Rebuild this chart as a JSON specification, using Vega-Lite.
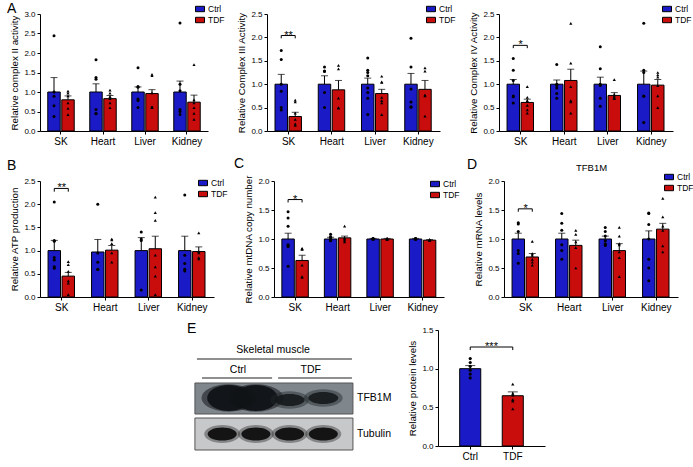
{
"$schema": "https://vega.github.io/schema/vega-lite/v6.json",
"background": "white",
"padding": {"left": 7, "top": 2, "right": 0, "bottom": 0},
"datasets": {
"bII": [{"tissue":"SK","group":"Ctrl","mean":1.0,"top":1.37},{"tissue":"SK","group":"TDF","mean":0.80,"top":0.90},{"tissue":"Heart","group":"Ctrl","mean":1.0,"top":1.21},{"tissue":"Heart","group":"TDF","mean":0.83,"top":0.91},{"tissue":"Liver","group":"Ctrl","mean":1.0,"top":1.13},{"tissue":"Liver","group":"TDF","mean":0.96,"top":1.06},{"tissue":"Kidney","group":"Ctrl","mean":1.0,"top":1.28},{"tissue":"Kidney","group":"TDF","mean":0.74,"top":0.92}],
"pII": [{"tissue":"SK","group":"Ctrl","value":2.44},{"tissue":"SK","group":"Ctrl","value":1.0},{"tissue":"SK","group":"Ctrl","value":0.89},{"tissue":"SK","group":"Ctrl","value":0.65},{"tissue":"SK","group":"Ctrl","value":0.37},
{"tissue":"SK","group":"TDF","value":1.02},{"tissue":"SK","group":"TDF","value":0.97},{"tissue":"SK","group":"TDF","value":0.9},{"tissue":"SK","group":"TDF","value":0.72},{"tissue":"SK","group":"TDF","value":0.58},{"tissue":"SK","group":"TDF","value":0.42},
{"tissue":"Heart","group":"Ctrl","value":1.83},{"tissue":"Heart","group":"Ctrl","value":1.37},{"tissue":"Heart","group":"Ctrl","value":1.33},{"tissue":"Heart","group":"Ctrl","value":0.55},{"tissue":"Heart","group":"Ctrl","value":0.45},{"tissue":"Heart","group":"Ctrl","value":0.44},
{"tissue":"Heart","group":"TDF","value":1.05},{"tissue":"Heart","group":"TDF","value":0.97},{"tissue":"Heart","group":"TDF","value":0.88},{"tissue":"Heart","group":"TDF","value":0.83},{"tissue":"Heart","group":"TDF","value":0.72},{"tissue":"Heart","group":"TDF","value":0.6},
{"tissue":"Liver","group":"Ctrl","value":1.62},{"tissue":"Liver","group":"Ctrl","value":1.14},{"tissue":"Liver","group":"Ctrl","value":1.12},{"tissue":"Liver","group":"Ctrl","value":0.82},{"tissue":"Liver","group":"Ctrl","value":0.78},{"tissue":"Liver","group":"Ctrl","value":0.6},
{"tissue":"Liver","group":"TDF","value":1.45},{"tissue":"Liver","group":"TDF","value":1.42},{"tissue":"Liver","group":"TDF","value":0.98},{"tissue":"Liver","group":"TDF","value":0.62},{"tissue":"Liver","group":"TDF","value":0.61},{"tissue":"Liver","group":"TDF","value":0.6},
{"tissue":"Kidney","group":"Ctrl","value":2.77},{"tissue":"Kidney","group":"Ctrl","value":1.2},{"tissue":"Kidney","group":"Ctrl","value":1.03},{"tissue":"Kidney","group":"Ctrl","value":0.55},{"tissue":"Kidney","group":"Ctrl","value":0.5},{"tissue":"Kidney","group":"Ctrl","value":0.42},
{"tissue":"Kidney","group":"TDF","value":1.7},{"tissue":"Kidney","group":"TDF","value":0.8},{"tissue":"Kidney","group":"TDF","value":0.72},{"tissue":"Kidney","group":"TDF","value":0.6},{"tissue":"Kidney","group":"TDF","value":0.45},{"tissue":"Kidney","group":"TDF","value":0.3}],
"bIII": [{"tissue":"SK","group":"Ctrl","mean":1.0,"top":1.21},{"tissue":"SK","group":"TDF","mean":0.31,"top":0.40},{"tissue":"Heart","group":"Ctrl","mean":1.0,"top":1.18},{"tissue":"Heart","group":"TDF","mean":0.88,"top":1.08},{"tissue":"Liver","group":"Ctrl","mean":1.0,"top":1.13},{"tissue":"Liver","group":"TDF","mean":0.80,"top":0.89},{"tissue":"Kidney","group":"Ctrl","mean":1.0,"top":1.23},{"tissue":"Kidney","group":"TDF","mean":0.89,"top":1.08}],
"pIII": [{"tissue":"SK","group":"Ctrl","value":1.72},{"tissue":"SK","group":"Ctrl","value":1.53},{"tissue":"SK","group":"Ctrl","value":1.0},{"tissue":"SK","group":"Ctrl","value":0.85},{"tissue":"SK","group":"Ctrl","value":0.5},{"tissue":"SK","group":"Ctrl","value":0.45},
{"tissue":"SK","group":"TDF","value":0.66},{"tissue":"SK","group":"TDF","value":0.62},{"tissue":"SK","group":"TDF","value":0.38},{"tissue":"SK","group":"TDF","value":0.25},{"tissue":"SK","group":"TDF","value":0.15},{"tissue":"SK","group":"TDF","value":0.12},
{"tissue":"Heart","group":"Ctrl","value":1.37},{"tissue":"Heart","group":"Ctrl","value":1.28},{"tissue":"Heart","group":"Ctrl","value":1.27},{"tissue":"Heart","group":"Ctrl","value":0.82},{"tissue":"Heart","group":"Ctrl","value":0.5},
{"tissue":"Heart","group":"TDF","value":1.4},{"tissue":"Heart","group":"TDF","value":1.33},{"tissue":"Heart","group":"TDF","value":0.7},{"tissue":"Heart","group":"TDF","value":0.5},{"tissue":"Heart","group":"TDF","value":0.49},
{"tissue":"Liver","group":"Ctrl","value":1.56},{"tissue":"Liver","group":"Ctrl","value":1.3},{"tissue":"Liver","group":"Ctrl","value":1.25},{"tissue":"Liver","group":"Ctrl","value":1.18},{"tissue":"Liver","group":"Ctrl","value":0.92},{"tissue":"Liver","group":"Ctrl","value":0.82},{"tissue":"Liver","group":"Ctrl","value":0.7},{"tissue":"Liver","group":"Ctrl","value":0.35},
{"tissue":"Liver","group":"TDF","value":1.17},{"tissue":"Liver","group":"TDF","value":1.05},{"tissue":"Liver","group":"TDF","value":1.04},{"tissue":"Liver","group":"TDF","value":0.72},{"tissue":"Liver","group":"TDF","value":0.65},{"tissue":"Liver","group":"TDF","value":0.6},{"tissue":"Liver","group":"TDF","value":0.35},
{"tissue":"Kidney","group":"Ctrl","value":1.98},{"tissue":"Kidney","group":"Ctrl","value":1.37},{"tissue":"Kidney","group":"Ctrl","value":0.9},{"tissue":"Kidney","group":"Ctrl","value":0.62},{"tissue":"Kidney","group":"Ctrl","value":0.52},{"tissue":"Kidney","group":"Ctrl","value":0.51},
{"tissue":"Kidney","group":"TDF","value":1.35},{"tissue":"Kidney","group":"TDF","value":1.28},{"tissue":"Kidney","group":"TDF","value":0.77},{"tissue":"Kidney","group":"TDF","value":0.75},{"tissue":"Kidney","group":"TDF","value":0.32}],
"sIII": [{"tissue":"SK","group":"Ctrl","value":1.98,"k":1},{"tissue":"SK","group":"Ctrl","value":2.04,"k":2},{"tissue":"SK","group":"TDF","value":2.04,"k":3},{"tissue":"SK","group":"TDF","value":1.98,"k":4}],
"tIII": [{"tissue":"SK","value":2.04,"label":"**"}],
"bIV": [{"tissue":"SK","group":"Ctrl","mean":1.0,"top":1.10},{"tissue":"SK","group":"TDF","mean":0.61,"top":0.68},{"tissue":"Heart","group":"Ctrl","mean":1.0,"top":1.09},{"tissue":"Heart","group":"TDF","mean":1.08,"top":1.32},{"tissue":"Liver","group":"Ctrl","mean":1.0,"top":1.15},{"tissue":"Liver","group":"TDF","mean":0.76,"top":0.82},{"tissue":"Kidney","group":"Ctrl","mean":1.0,"top":1.28},{"tissue":"Kidney","group":"TDF","mean":0.98,"top":1.10}],
"pIV": [{"tissue":"SK","group":"Ctrl","value":1.55},{"tissue":"SK","group":"Ctrl","value":1.3},{"tissue":"SK","group":"Ctrl","value":1.08},{"tissue":"SK","group":"Ctrl","value":0.75},{"tissue":"SK","group":"Ctrl","value":0.73},{"tissue":"SK","group":"Ctrl","value":0.6},
{"tissue":"SK","group":"TDF","value":0.95},{"tissue":"SK","group":"TDF","value":0.72},{"tissue":"SK","group":"TDF","value":0.65},{"tissue":"SK","group":"TDF","value":0.55},{"tissue":"SK","group":"TDF","value":0.45},{"tissue":"SK","group":"TDF","value":0.38},
{"tissue":"Heart","group":"Ctrl","value":1.42},{"tissue":"Heart","group":"Ctrl","value":1.0},{"tissue":"Heart","group":"Ctrl","value":0.97},{"tissue":"Heart","group":"Ctrl","value":0.92},{"tissue":"Heart","group":"Ctrl","value":0.8},{"tissue":"Heart","group":"Ctrl","value":0.7},
{"tissue":"Heart","group":"TDF","value":2.3},{"tissue":"Heart","group":"TDF","value":1.45},{"tissue":"Heart","group":"TDF","value":0.95},{"tissue":"Heart","group":"TDF","value":0.65},{"tissue":"Heart","group":"TDF","value":0.62},{"tissue":"Heart","group":"TDF","value":0.38},
{"tissue":"Liver","group":"Ctrl","value":1.8},{"tissue":"Liver","group":"Ctrl","value":1.33},{"tissue":"Liver","group":"Ctrl","value":1.0},{"tissue":"Liver","group":"Ctrl","value":0.97},{"tissue":"Liver","group":"Ctrl","value":0.7},{"tissue":"Liver","group":"Ctrl","value":0.53},
{"tissue":"Liver","group":"TDF","value":1.1},{"tissue":"Liver","group":"TDF","value":0.78},{"tissue":"Liver","group":"TDF","value":0.75},{"tissue":"Liver","group":"TDF","value":0.72},{"tissue":"Liver","group":"TDF","value":0.7},{"tissue":"Liver","group":"TDF","value":0.69},
{"tissue":"Kidney","group":"Ctrl","value":2.3},{"tissue":"Kidney","group":"Ctrl","value":1.3},{"tissue":"Kidney","group":"Ctrl","value":1.25},{"tissue":"Kidney","group":"Ctrl","value":0.75},{"tissue":"Kidney","group":"Ctrl","value":0.74},{"tissue":"Kidney","group":"Ctrl","value":0.18},
{"tissue":"Kidney","group":"TDF","value":1.25},{"tissue":"Kidney","group":"TDF","value":1.2},{"tissue":"Kidney","group":"TDF","value":1.15},{"tissue":"Kidney","group":"TDF","value":0.97},{"tissue":"Kidney","group":"TDF","value":0.75},{"tissue":"Kidney","group":"TDF","value":0.5}],
"sIV": [{"tissue":"SK","group":"Ctrl","value":1.77,"k":1},{"tissue":"SK","group":"Ctrl","value":1.83,"k":2},{"tissue":"SK","group":"TDF","value":1.83,"k":3},{"tissue":"SK","group":"TDF","value":1.77,"k":4}],
"tIV": [{"tissue":"SK","value":1.83,"label":"*"}],
"bATP": [{"tissue":"SK","group":"Ctrl","mean":1.0,"top":1.22},{"tissue":"SK","group":"TDF","mean":0.45,"top":0.53},{"tissue":"Heart","group":"Ctrl","mean":0.97,"top":1.24},{"tissue":"Heart","group":"TDF","mean":1.01,"top":1.11},{"tissue":"Liver","group":"Ctrl","mean":1.0,"top":1.28},{"tissue":"Liver","group":"TDF","mean":1.04,"top":1.31},{"tissue":"Kidney","group":"Ctrl","mean":1.0,"top":1.31},{"tissue":"Kidney","group":"TDF","mean":0.98,"top":1.08}],
"pATP": [{"tissue":"SK","group":"Ctrl","value":2.05},{"tissue":"SK","group":"Ctrl","value":1.22},{"tissue":"SK","group":"Ctrl","value":1.2},{"tissue":"SK","group":"Ctrl","value":0.85},{"tissue":"SK","group":"Ctrl","value":0.8},{"tissue":"SK","group":"Ctrl","value":0.65},{"tissue":"SK","group":"Ctrl","value":0.62},
{"tissue":"SK","group":"TDF","value":0.76},{"tissue":"SK","group":"TDF","value":0.7},{"tissue":"SK","group":"TDF","value":0.55},{"tissue":"SK","group":"TDF","value":0.35},{"tissue":"SK","group":"TDF","value":0.3},{"tissue":"SK","group":"TDF","value":0.05},
{"tissue":"Heart","group":"Ctrl","value":2.0},{"tissue":"Heart","group":"Ctrl","value":0.95},{"tissue":"Heart","group":"Ctrl","value":0.75},{"tissue":"Heart","group":"Ctrl","value":0.6},{"tissue":"Heart","group":"Ctrl","value":0.59},
{"tissue":"Heart","group":"TDF","value":1.25},{"tissue":"Heart","group":"TDF","value":1.23},{"tissue":"Heart","group":"TDF","value":1.15},{"tissue":"Heart","group":"TDF","value":0.95},{"tissue":"Heart","group":"TDF","value":0.75},
{"tissue":"Liver","group":"Ctrl","value":1.4},{"tissue":"Liver","group":"Ctrl","value":1.25},{"tissue":"Liver","group":"Ctrl","value":1.22},{"tissue":"Liver","group":"Ctrl","value":0.15},
{"tissue":"Liver","group":"TDF","value":2.15},{"tissue":"Liver","group":"TDF","value":1.82},{"tissue":"Liver","group":"TDF","value":1.65},{"tissue":"Liver","group":"TDF","value":0.9},{"tissue":"Liver","group":"TDF","value":0.65},{"tissue":"Liver","group":"TDF","value":0.45},{"tissue":"Liver","group":"TDF","value":0.05},
{"tissue":"Kidney","group":"Ctrl","value":2.2},{"tissue":"Kidney","group":"Ctrl","value":0.9},{"tissue":"Kidney","group":"Ctrl","value":0.72},{"tissue":"Kidney","group":"Ctrl","value":0.6},{"tissue":"Kidney","group":"Ctrl","value":0.56},
{"tissue":"Kidney","group":"TDF","value":1.38},{"tissue":"Kidney","group":"TDF","value":0.98},{"tissue":"Kidney","group":"TDF","value":0.95},{"tissue":"Kidney","group":"TDF","value":0.85},{"tissue":"Kidney","group":"TDF","value":0.82}],
"sATP": [{"tissue":"SK","group":"Ctrl","value":2.27,"k":1},{"tissue":"SK","group":"Ctrl","value":2.34,"k":2},{"tissue":"SK","group":"TDF","value":2.34,"k":3},{"tissue":"SK","group":"TDF","value":2.27,"k":4}],
"tATP": [{"tissue":"SK","value":2.34,"label":"**"}],
"bDNA": [{"tissue":"SK","group":"Ctrl","mean":1.0,"top":1.10},{"tissue":"SK","group":"TDF","mean":0.63,"top":0.72},{"tissue":"Heart","group":"Ctrl","mean":1.0,"top":1.03},{"tissue":"Heart","group":"TDF","mean":1.02,"top":1.05},{"tissue":"Liver","group":"Ctrl","mean":1.0,"top":1.01},{"tissue":"Liver","group":"TDF","mean":1.0,"top":1.01},{"tissue":"Kidney","group":"Ctrl","mean":1.0,"top":1.01},{"tissue":"Kidney","group":"TDF","mean":0.98,"top":0.99}],
"pDNA": [{"tissue":"SK","group":"Ctrl","value":1.47},{"tissue":"SK","group":"Ctrl","value":1.36},{"tissue":"SK","group":"Ctrl","value":1.22},{"tissue":"SK","group":"Ctrl","value":0.9},{"tissue":"SK","group":"Ctrl","value":0.88},{"tissue":"SK","group":"Ctrl","value":0.87},{"tissue":"SK","group":"Ctrl","value":0.53},
{"tissue":"SK","group":"TDF","value":0.84},{"tissue":"SK","group":"TDF","value":0.83},{"tissue":"SK","group":"TDF","value":0.82},{"tissue":"SK","group":"TDF","value":0.55},{"tissue":"SK","group":"TDF","value":0.35},{"tissue":"SK","group":"TDF","value":0.34},
{"tissue":"Heart","group":"Ctrl","value":1.08},{"tissue":"Heart","group":"Ctrl","value":1.04},{"tissue":"Heart","group":"Ctrl","value":1.03},{"tissue":"Heart","group":"Ctrl","value":1.0},{"tissue":"Heart","group":"Ctrl","value":0.98},{"tissue":"Heart","group":"Ctrl","value":0.97},
{"tissue":"Heart","group":"TDF","value":1.22},{"tissue":"Heart","group":"TDF","value":1.02},{"tissue":"Heart","group":"TDF","value":1.0},{"tissue":"Heart","group":"TDF","value":0.98},{"tissue":"Heart","group":"TDF","value":0.95},
{"tissue":"Liver","group":"Ctrl","value":1.01},{"tissue":"Liver","group":"Ctrl","value":1.0},{"tissue":"Liver","group":"Ctrl","value":0.99},{"tissue":"Liver","group":"Ctrl","value":1.0},{"tissue":"Liver","group":"Ctrl","value":1.01},
{"tissue":"Liver","group":"TDF","value":1.0},{"tissue":"Liver","group":"TDF","value":1.01},{"tissue":"Liver","group":"TDF","value":0.99},{"tissue":"Liver","group":"TDF","value":1.0},{"tissue":"Liver","group":"TDF","value":1.01},
{"tissue":"Kidney","group":"Ctrl","value":1.01},{"tissue":"Kidney","group":"Ctrl","value":1.0},{"tissue":"Kidney","group":"Ctrl","value":1.0},{"tissue":"Kidney","group":"Ctrl","value":0.99},{"tissue":"Kidney","group":"Ctrl","value":1.01},
{"tissue":"Kidney","group":"TDF","value":0.99},{"tissue":"Kidney","group":"TDF","value":0.98},{"tissue":"Kidney","group":"TDF","value":0.97},{"tissue":"Kidney","group":"TDF","value":0.99},{"tissue":"Kidney","group":"TDF","value":0.98}],
"sDNA": [{"tissue":"SK","group":"Ctrl","value":1.63,"k":1},{"tissue":"SK","group":"Ctrl","value":1.68,"k":2},{"tissue":"SK","group":"TDF","value":1.68,"k":3},{"tissue":"SK","group":"TDF","value":1.63,"k":4}],
"tDNA": [{"tissue":"SK","value":1.68,"label":"*"}],
"bRNA": [{"tissue":"SK","group":"Ctrl","mean":1.0,"top":1.10},{"tissue":"SK","group":"TDF","mean":0.69,"top":0.75},{"tissue":"Heart","group":"Ctrl","mean":1.0,"top":1.10},{"tissue":"Heart","group":"TDF","mean":0.89,"top":0.98},{"tissue":"Liver","group":"Ctrl","mean":1.0,"top":1.05},{"tissue":"Liver","group":"TDF","mean":0.80,"top":0.92},{"tissue":"Kidney","group":"Ctrl","mean":1.0,"top":1.14},{"tissue":"Kidney","group":"TDF","mean":1.17,"top":1.27}],
"pRNA": [{"tissue":"SK","group":"Ctrl","value":1.28},{"tissue":"SK","group":"Ctrl","value":1.26},{"tissue":"SK","group":"Ctrl","value":1.13},{"tissue":"SK","group":"Ctrl","value":0.8},{"tissue":"SK","group":"Ctrl","value":0.75},{"tissue":"SK","group":"Ctrl","value":0.58},
{"tissue":"SK","group":"TDF","value":0.96},{"tissue":"SK","group":"TDF","value":0.75},{"tissue":"SK","group":"TDF","value":0.72},{"tissue":"SK","group":"TDF","value":0.65},{"tissue":"SK","group":"TDF","value":0.6},{"tissue":"SK","group":"TDF","value":0.55},
{"tissue":"Heart","group":"Ctrl","value":1.44},{"tissue":"Heart","group":"Ctrl","value":1.27},{"tissue":"Heart","group":"Ctrl","value":1.15},{"tissue":"Heart","group":"Ctrl","value":0.9},{"tissue":"Heart","group":"Ctrl","value":0.8},{"tissue":"Heart","group":"Ctrl","value":0.65},
{"tissue":"Heart","group":"TDF","value":1.15},{"tissue":"Heart","group":"TDF","value":1.08},{"tissue":"Heart","group":"TDF","value":0.95},{"tissue":"Heart","group":"TDF","value":0.85},{"tissue":"Heart","group":"TDF","value":0.5},
{"tissue":"Liver","group":"Ctrl","value":1.2},{"tissue":"Liver","group":"Ctrl","value":1.13},{"tissue":"Liver","group":"Ctrl","value":1.05},{"tissue":"Liver","group":"Ctrl","value":0.97},{"tissue":"Liver","group":"Ctrl","value":0.92},{"tissue":"Liver","group":"Ctrl","value":0.9},{"tissue":"Liver","group":"Ctrl","value":0.89},
{"tissue":"Liver","group":"TDF","value":1.2},{"tissue":"Liver","group":"TDF","value":1.05},{"tissue":"Liver","group":"TDF","value":0.92},{"tissue":"Liver","group":"TDF","value":0.9},{"tissue":"Liver","group":"TDF","value":0.78},{"tissue":"Liver","group":"TDF","value":0.68},{"tissue":"Liver","group":"TDF","value":0.35},
{"tissue":"Kidney","group":"Ctrl","value":1.45},{"tissue":"Kidney","group":"Ctrl","value":1.44},{"tissue":"Kidney","group":"Ctrl","value":1.25},{"tissue":"Kidney","group":"Ctrl","value":1.0},{"tissue":"Kidney","group":"Ctrl","value":0.65},{"tissue":"Kidney","group":"Ctrl","value":0.5},{"tissue":"Kidney","group":"Ctrl","value":0.28},
{"tissue":"Kidney","group":"TDF","value":1.7},{"tissue":"Kidney","group":"TDF","value":1.38},{"tissue":"Kidney","group":"TDF","value":1.22},{"tissue":"Kidney","group":"TDF","value":1.15},{"tissue":"Kidney","group":"TDF","value":0.88},{"tissue":"Kidney","group":"TDF","value":0.78}],
"sRNA": [{"tissue":"SK","group":"Ctrl","value":1.47,"k":1},{"tissue":"SK","group":"Ctrl","value":1.52,"k":2},{"tissue":"SK","group":"TDF","value":1.52,"k":3},{"tissue":"SK","group":"TDF","value":1.47,"k":4}],
"tRNA": [{"tissue":"SK","value":1.52,"label":"*"}],
"bE": [{"group":"Ctrl","mean":1.0,"top":1.04},{"group":"TDF","mean":0.65,"top":0.70}],
"pE": [{"group":"Ctrl","value":1.13},{"group":"Ctrl","value":1.08},{"group":"Ctrl","value":1.03},{"group":"Ctrl","value":0.98},{"group":"Ctrl","value":0.93},{"group":"Ctrl","value":0.88},
{"group":"TDF","value":0.8},{"group":"TDF","value":0.68},{"group":"TDF","value":0.66},{"group":"TDF","value":0.6},{"group":"TDF","value":0.58},{"group":"TDF","value":0.48}],
"sE": [{"group":"Ctrl","value":1.24,"k":1},{"group":"Ctrl","value":1.28,"k":2},{"group":"TDF","value":1.28,"k":3},{"group":"TDF","value":1.24,"k":4}],
"tE": [{"value":1.28,"label":"***"}],
"blotBox": [{"protein":"TFB1M","x1":0.19,"x2":4.88,"y1":53,"y2":84},{"protein":"Tubulin","x1":0.19,"x2":4.88,"y1":88,"y2":120}],
"blotBand": [{"protein":"TFB1M","lane":1.2,"y":68,"intensity":1.0},{"protein":"TFB1M","lane":2.0,"y":68,"intensity":1.0},{"protein":"TFB1M","lane":3,"y":70,"intensity":0.6},{"protein":"TFB1M","lane":4,"y":68,"intensity":0.75},
{"protein":"Tubulin","lane":1,"y":104,"intensity":1.0},{"protein":"Tubulin","lane":2,"y":104,"intensity":1.0},{"protein":"Tubulin","lane":3,"y":104,"intensity":1.0},{"protein":"Tubulin","lane":4,"y":104,"intensity":1.0}],
"blotLine": [{"x1":0.25,"x2":4.85,"y":29},{"x1":0.40,"x2":2.48,"y":48},{"x1":2.66,"x2":4.85,"y":48}],
"blotText": [{"label":"Skeletal muscle","x":2.51,"y":20},{"label":"Ctrl","x":1.47,"y":40},{"label":"TDF","x":3.63,"y":40}],
"blotLabel": [{"label":"TFB1M","x":5.0,"y":68},{"label":"Tubulin","x":5.0,"y":104}]
},
"spacing": 10,
"resolve": {"scale": {"color": "independent", "shape": "independent", "x": "independent", "y": "independent"}, "legend": {"color": "independent"}},
"vconcat": [
{
"hconcat": [
{
"width": 168, "height": 117,
"title": {"text": "A", "dx": -33, "offset": -12},
"layer": [
{"data": {"name": "bII"}, "mark": {"type": "bar", "stroke": "#000", "strokeWidth": 1},
 "encoding": {
  "x": {"field": "tissue", "type": "nominal", "sort": ["SK","Heart","Liver","Kidney"], "title": null, "scale": {"paddingInner": 0.37, "paddingOuter": 0.185}},
  "xOffset": {"field": "group", "type": "nominal", "sort": ["Ctrl","TDF"], "scale": {"paddingInner": 0.11, "paddingOuter": 0}},
  "y": {"field": "mean", "type": "quantitative", "title": "Relative complex II activity", "scale": {"domain": [0, 3], "nice": false}, "axis": {"values": [0,0.5,1,1.5,2,2.5,3]}},
  "color": {"field": "group", "type": "nominal", "scale": {"domain": ["Ctrl","TDF"], "range": ["#1a1ac6","#c90d0d"]}, "legend": {"orient": "none", "legendX": 155, "legendY": -10, "title": null, "symbolType": "M-1,-0.6H1V0.6H-1Z"}}}},
{"data": {"name": "bII"}, "mark": {"type": "rule", "color": "#000", "strokeWidth": 1},
 "encoding": {
  "x": {"field": "tissue", "type": "nominal", "sort": ["SK","Heart","Liver","Kidney"], "title": null},
  "xOffset": {"field": "group", "type": "nominal", "sort": ["Ctrl","TDF"]},
  "y": {"field": "mean", "type": "quantitative", "title": "Relative complex II activity", "axis": {"values": [0,0.5,1,1.5,2,2.5,3]}}, "y2": {"field": "top"}}},
{"data": {"name": "bII"}, "mark": {"type": "tick", "color": "#000", "thickness": 1, "size": 7},
 "encoding": {
  "x": {"field": "tissue", "type": "nominal", "sort": ["SK","Heart","Liver","Kidney"], "title": null},
  "xOffset": {"field": "group", "type": "nominal", "sort": ["Ctrl","TDF"]},
  "y": {"field": "top", "type": "quantitative", "title": "Relative complex II activity", "axis": {"values": [0,0.5,1,1.5,2,2.5,3]}}}},
{"data": {"name": "pII"}, "transform": [{"filter": "datum.group == 'Ctrl'"}], "mark": {"type": "point", "filled": true, "color": "#000", "size": 9, "opacity": 1, "shape": "circle"},
 "encoding": {
  "x": {"field": "tissue", "type": "nominal", "sort": ["SK","Heart","Liver","Kidney"], "title": null},
  "xOffset": {"field": "group", "type": "nominal", "sort": ["Ctrl","TDF"]},
  "y": {"field": "value", "type": "quantitative", "title": "Relative complex II activity", "axis": {"values": [0,0.5,1,1.5,2,2.5,3]}}}},
{"data": {"name": "pII"}, "transform": [{"filter": "datum.group == 'TDF'"}], "mark": {"type": "point", "filled": true, "color": "#000", "size": 10, "opacity": 1, "shape": "triangle-up"},
 "encoding": {
  "x": {"field": "tissue", "type": "nominal", "sort": ["SK","Heart","Liver","Kidney"], "title": null},
  "xOffset": {"field": "group", "type": "nominal", "sort": ["Ctrl","TDF"]},
  "y": {"field": "value", "type": "quantitative", "title": "Relative complex II activity", "axis": {"values": [0,0.5,1,1.5,2,2.5,3]}}}}
]
},
{
"width": 173, "height": 117,
"layer": [
{"data": {"name": "bIII"}, "mark": {"type": "bar", "stroke": "#000", "strokeWidth": 1},
 "encoding": {
  "x": {"field": "tissue", "type": "nominal", "sort": ["SK","Heart","Liver","Kidney"], "title": null, "scale": {"paddingInner": 0.37, "paddingOuter": 0.185}},
  "xOffset": {"field": "group", "type": "nominal", "sort": ["Ctrl","TDF"], "scale": {"paddingInner": 0.11, "paddingOuter": 0}},
  "y": {"field": "mean", "type": "quantitative", "title": "Relative Complex III Activity", "scale": {"domain": [0, 2.5], "nice": false}, "axis": {"values": [0,0.5,1,1.5,2,2.5]}},
  "color": {"field": "group", "type": "nominal", "scale": {"domain": ["Ctrl","TDF"], "range": ["#1a1ac6","#c90d0d"]}, "legend": {"orient": "none", "legendX": 159, "legendY": -10, "title": null, "symbolType": "M-1,-0.6H1V0.6H-1Z"}}}},
{"data": {"name": "bIII"}, "mark": {"type": "rule", "color": "#000", "strokeWidth": 1},
 "encoding": {
  "x": {"field": "tissue", "type": "nominal", "sort": ["SK","Heart","Liver","Kidney"], "title": null},
  "xOffset": {"field": "group", "type": "nominal", "sort": ["Ctrl","TDF"]},
  "y": {"field": "mean", "type": "quantitative", "title": "Relative Complex III Activity", "axis": {"values": [0,0.5,1,1.5,2,2.5]}}, "y2": {"field": "top"}}},
{"data": {"name": "bIII"}, "mark": {"type": "tick", "color": "#000", "thickness": 1, "size": 7},
 "encoding": {
  "x": {"field": "tissue", "type": "nominal", "sort": ["SK","Heart","Liver","Kidney"], "title": null},
  "xOffset": {"field": "group", "type": "nominal", "sort": ["Ctrl","TDF"]},
  "y": {"field": "top", "type": "quantitative", "title": "Relative Complex III Activity", "axis": {"values": [0,0.5,1,1.5,2,2.5]}}}},
{"data": {"name": "pIII"}, "transform": [{"filter": "datum.group == 'Ctrl'"}], "mark": {"type": "point", "filled": true, "color": "#000", "size": 9, "opacity": 1, "shape": "circle"},
 "encoding": {
  "x": {"field": "tissue", "type": "nominal", "sort": ["SK","Heart","Liver","Kidney"], "title": null},
  "xOffset": {"field": "group", "type": "nominal", "sort": ["Ctrl","TDF"]},
  "y": {"field": "value", "type": "quantitative", "title": "Relative Complex III Activity", "axis": {"values": [0,0.5,1,1.5,2,2.5]}}}},
{"data": {"name": "pIII"}, "transform": [{"filter": "datum.group == 'TDF'"}], "mark": {"type": "point", "filled": true, "color": "#000", "size": 10, "opacity": 1, "shape": "triangle-up"},
 "encoding": {
  "x": {"field": "tissue", "type": "nominal", "sort": ["SK","Heart","Liver","Kidney"], "title": null},
  "xOffset": {"field": "group", "type": "nominal", "sort": ["Ctrl","TDF"]},
  "y": {"field": "value", "type": "quantitative", "title": "Relative Complex III Activity", "axis": {"values": [0,0.5,1,1.5,2,2.5]}}}},
{"data": {"name": "sIII"}, "mark": {"type": "line", "color": "#000", "strokeWidth": 1},
 "encoding": {
  "x": {"field": "tissue", "type": "nominal", "sort": ["SK","Heart","Liver","Kidney"], "title": null},
  "xOffset": {"field": "group", "type": "nominal", "sort": ["Ctrl","TDF"]},
  "y": {"field": "value", "type": "quantitative", "title": "Relative Complex III Activity", "axis": {"values": [0,0.5,1,1.5,2,2.5]}},
  "order": {"field": "k"}}},
{"data": {"name": "tIII"}, "mark": {"type": "text", "fontSize": 11, "dy": 3, "baseline": "alphabetic", "color": "#000"},
 "encoding": {
  "x": {"field": "tissue", "type": "nominal", "sort": ["SK","Heart","Liver","Kidney"], "title": null},
  "y": {"field": "value", "type": "quantitative", "title": "Relative Complex III Activity", "axis": {"values": [0,0.5,1,1.5,2,2.5]}},
  "text": {"field": "label"}}}
]
},
{
"width": 174, "height": 117,
"layer": [
{"data": {"name": "bIV"}, "mark": {"type": "bar", "stroke": "#000", "strokeWidth": 1},
 "encoding": {
  "x": {"field": "tissue", "type": "nominal", "sort": ["SK","Heart","Liver","Kidney"], "title": null, "scale": {"paddingInner": 0.37, "paddingOuter": 0.185}},
  "xOffset": {"field": "group", "type": "nominal", "sort": ["Ctrl","TDF"], "scale": {"paddingInner": 0.11, "paddingOuter": 0}},
  "y": {"field": "mean", "type": "quantitative", "title": "Relative Complex IV Activity", "scale": {"domain": [0, 2.5], "nice": false}, "axis": {"values": [0,0.5,1,1.5,2,2.5]}},
  "color": {"field": "group", "type": "nominal", "scale": {"domain": ["Ctrl","TDF"], "range": ["#1a1ac6","#c90d0d"]}, "legend": {"orient": "none", "legendX": 163, "legendY": -10, "title": null, "symbolType": "M-1,-0.6H1V0.6H-1Z"}}}},
{"data": {"name": "bIV"}, "mark": {"type": "rule", "color": "#000", "strokeWidth": 1},
 "encoding": {
  "x": {"field": "tissue", "type": "nominal", "sort": ["SK","Heart","Liver","Kidney"], "title": null},
  "xOffset": {"field": "group", "type": "nominal", "sort": ["Ctrl","TDF"]},
  "y": {"field": "mean", "type": "quantitative", "title": "Relative Complex IV Activity", "axis": {"values": [0,0.5,1,1.5,2,2.5]}}, "y2": {"field": "top"}}},
{"data": {"name": "bIV"}, "mark": {"type": "tick", "color": "#000", "thickness": 1, "size": 7},
 "encoding": {
  "x": {"field": "tissue", "type": "nominal", "sort": ["SK","Heart","Liver","Kidney"], "title": null},
  "xOffset": {"field": "group", "type": "nominal", "sort": ["Ctrl","TDF"]},
  "y": {"field": "top", "type": "quantitative", "title": "Relative Complex IV Activity", "axis": {"values": [0,0.5,1,1.5,2,2.5]}}}},
{"data": {"name": "pIV"}, "transform": [{"filter": "datum.group == 'Ctrl'"}], "mark": {"type": "point", "filled": true, "color": "#000", "size": 9, "opacity": 1, "shape": "circle"},
 "encoding": {
  "x": {"field": "tissue", "type": "nominal", "sort": ["SK","Heart","Liver","Kidney"], "title": null},
  "xOffset": {"field": "group", "type": "nominal", "sort": ["Ctrl","TDF"]},
  "y": {"field": "value", "type": "quantitative", "title": "Relative Complex IV Activity", "axis": {"values": [0,0.5,1,1.5,2,2.5]}}}},
{"data": {"name": "pIV"}, "transform": [{"filter": "datum.group == 'TDF'"}], "mark": {"type": "point", "filled": true, "color": "#000", "size": 10, "opacity": 1, "shape": "triangle-up"},
 "encoding": {
  "x": {"field": "tissue", "type": "nominal", "sort": ["SK","Heart","Liver","Kidney"], "title": null},
  "xOffset": {"field": "group", "type": "nominal", "sort": ["Ctrl","TDF"]},
  "y": {"field": "value", "type": "quantitative", "title": "Relative Complex IV Activity", "axis": {"values": [0,0.5,1,1.5,2,2.5]}}}},
{"data": {"name": "sIV"}, "mark": {"type": "line", "color": "#000", "strokeWidth": 1},
 "encoding": {
  "x": {"field": "tissue", "type": "nominal", "sort": ["SK","Heart","Liver","Kidney"], "title": null},
  "xOffset": {"field": "group", "type": "nominal", "sort": ["Ctrl","TDF"]},
  "y": {"field": "value", "type": "quantitative", "title": "Relative Complex IV Activity", "axis": {"values": [0,0.5,1,1.5,2,2.5]}},
  "order": {"field": "k"}}},
{"data": {"name": "tIV"}, "mark": {"type": "text", "fontSize": 11, "dy": 3, "baseline": "alphabetic", "color": "#000"},
 "encoding": {
  "x": {"field": "tissue", "type": "nominal", "sort": ["SK","Heart","Liver","Kidney"], "title": null},
  "y": {"field": "value", "type": "quantitative", "title": "Relative Complex IV Activity", "axis": {"values": [0,0.5,1,1.5,2,2.5]}},
  "text": {"field": "label"}}}
]
}
],
"spacing": 59, "bounds": "flush",
"resolve": {"scale": {"color": "independent"}, "legend": {"color": "independent"}}
},
{
"hconcat": [
{
"width": 174, "height": 116,
"title": {"text": "B", "dx": -33, "offset": 4},
"layer": [
{"data": {"name": "bATP"}, "mark": {"type": "bar", "stroke": "#000", "strokeWidth": 1},
 "encoding": {
  "x": {"field": "tissue", "type": "nominal", "sort": ["SK","Heart","Liver","Kidney"], "title": null, "scale": {"paddingInner": 0.37, "paddingOuter": 0.185}},
  "xOffset": {"field": "group", "type": "nominal", "sort": ["Ctrl","TDF"], "scale": {"paddingInner": 0.11, "paddingOuter": 0}},
  "y": {"field": "mean", "type": "quantitative", "title": "Relative ATP production", "scale": {"domain": [0, 2.5], "nice": false}, "axis": {"values": [0,0.5,1,1.5,2,2.5]}},
  "color": {"field": "group", "type": "nominal", "scale": {"domain": ["Ctrl","TDF"], "range": ["#1a1ac6","#c90d0d"]}, "legend": {"orient": "none", "legendX": 158, "legendY": -3, "title": null, "symbolType": "M-1,-0.6H1V0.6H-1Z"}}}},
{"data": {"name": "bATP"}, "mark": {"type": "rule", "color": "#000", "strokeWidth": 1},
 "encoding": {
  "x": {"field": "tissue", "type": "nominal", "sort": ["SK","Heart","Liver","Kidney"], "title": null},
  "xOffset": {"field": "group", "type": "nominal", "sort": ["Ctrl","TDF"]},
  "y": {"field": "mean", "type": "quantitative", "title": "Relative ATP production", "axis": {"values": [0,0.5,1,1.5,2,2.5]}}, "y2": {"field": "top"}}},
{"data": {"name": "bATP"}, "mark": {"type": "tick", "color": "#000", "thickness": 1, "size": 7},
 "encoding": {
  "x": {"field": "tissue", "type": "nominal", "sort": ["SK","Heart","Liver","Kidney"], "title": null},
  "xOffset": {"field": "group", "type": "nominal", "sort": ["Ctrl","TDF"]},
  "y": {"field": "top", "type": "quantitative", "title": "Relative ATP production", "axis": {"values": [0,0.5,1,1.5,2,2.5]}}}},
{"data": {"name": "pATP"}, "transform": [{"filter": "datum.group == 'Ctrl'"}], "mark": {"type": "point", "filled": true, "color": "#000", "size": 9, "opacity": 1, "shape": "circle"},
 "encoding": {
  "x": {"field": "tissue", "type": "nominal", "sort": ["SK","Heart","Liver","Kidney"], "title": null},
  "xOffset": {"field": "group", "type": "nominal", "sort": ["Ctrl","TDF"]},
  "y": {"field": "value", "type": "quantitative", "title": "Relative ATP production", "axis": {"values": [0,0.5,1,1.5,2,2.5]}}}},
{"data": {"name": "pATP"}, "transform": [{"filter": "datum.group == 'TDF'"}], "mark": {"type": "point", "filled": true, "color": "#000", "size": 10, "opacity": 1, "shape": "triangle-up"},
 "encoding": {
  "x": {"field": "tissue", "type": "nominal", "sort": ["SK","Heart","Liver","Kidney"], "title": null},
  "xOffset": {"field": "group", "type": "nominal", "sort": ["Ctrl","TDF"]},
  "y": {"field": "value", "type": "quantitative", "title": "Relative ATP production", "axis": {"values": [0,0.5,1,1.5,2,2.5]}}}},
{"data": {"name": "sATP"}, "mark": {"type": "line", "color": "#000", "strokeWidth": 1},
 "encoding": {
  "x": {"field": "tissue", "type": "nominal", "sort": ["SK","Heart","Liver","Kidney"], "title": null},
  "xOffset": {"field": "group", "type": "nominal", "sort": ["Ctrl","TDF"]},
  "y": {"field": "value", "type": "quantitative", "title": "Relative ATP production", "axis": {"values": [0,0.5,1,1.5,2,2.5]}},
  "order": {"field": "k"}}},
{"data": {"name": "tATP"}, "mark": {"type": "text", "fontSize": 11, "dy": 3, "baseline": "alphabetic", "color": "#000"},
 "encoding": {
  "x": {"field": "tissue", "type": "nominal", "sort": ["SK","Heart","Liver","Kidney"], "title": null},
  "y": {"field": "value", "type": "quantitative", "title": "Relative ATP production", "axis": {"values": [0,0.5,1,1.5,2,2.5]}},
  "text": {"field": "label"}}}
]
},
{
"width": 170, "height": 116,
"title": {"text": "C", "dx": -40, "offset": 4},
"layer": [
{"data": {"name": "bDNA"}, "mark": {"type": "bar", "stroke": "#000", "strokeWidth": 1},
 "encoding": {
  "x": {"field": "tissue", "type": "nominal", "sort": ["SK","Heart","Liver","Kidney"], "title": null, "scale": {"paddingInner": 0.37, "paddingOuter": 0.185}},
  "xOffset": {"field": "group", "type": "nominal", "sort": ["Ctrl","TDF"], "scale": {"paddingInner": 0.11, "paddingOuter": 0}},
  "y": {"field": "mean", "type": "quantitative", "title": "Relative mtDNA copy number", "scale": {"domain": [0, 2], "nice": false}, "axis": {"values": [0,0.5,1,1.5,2]}},
  "color": {"field": "group", "type": "nominal", "scale": {"domain": ["Ctrl","TDF"], "range": ["#1a1ac6","#c90d0d"]}, "legend": {"orient": "none", "legendX": 156, "legendY": -2, "title": null, "symbolType": "M-1,-0.6H1V0.6H-1Z"}}}},
{"data": {"name": "bDNA"}, "mark": {"type": "rule", "color": "#000", "strokeWidth": 1},
 "encoding": {
  "x": {"field": "tissue", "type": "nominal", "sort": ["SK","Heart","Liver","Kidney"], "title": null},
  "xOffset": {"field": "group", "type": "nominal", "sort": ["Ctrl","TDF"]},
  "y": {"field": "mean", "type": "quantitative", "title": "Relative mtDNA copy number", "axis": {"values": [0,0.5,1,1.5,2]}}, "y2": {"field": "top"}}},
{"data": {"name": "bDNA"}, "mark": {"type": "tick", "color": "#000", "thickness": 1, "size": 7},
 "encoding": {
  "x": {"field": "tissue", "type": "nominal", "sort": ["SK","Heart","Liver","Kidney"], "title": null},
  "xOffset": {"field": "group", "type": "nominal", "sort": ["Ctrl","TDF"]},
  "y": {"field": "top", "type": "quantitative", "title": "Relative mtDNA copy number", "axis": {"values": [0,0.5,1,1.5,2]}}}},
{"data": {"name": "pDNA"}, "transform": [{"filter": "datum.group == 'Ctrl'"}], "mark": {"type": "point", "filled": true, "color": "#000", "size": 9, "opacity": 1, "shape": "circle"},
 "encoding": {
  "x": {"field": "tissue", "type": "nominal", "sort": ["SK","Heart","Liver","Kidney"], "title": null},
  "xOffset": {"field": "group", "type": "nominal", "sort": ["Ctrl","TDF"]},
  "y": {"field": "value", "type": "quantitative", "title": "Relative mtDNA copy number", "axis": {"values": [0,0.5,1,1.5,2]}}}},
{"data": {"name": "pDNA"}, "transform": [{"filter": "datum.group == 'TDF'"}], "mark": {"type": "point", "filled": true, "color": "#000", "size": 10, "opacity": 1, "shape": "triangle-up"},
 "encoding": {
  "x": {"field": "tissue", "type": "nominal", "sort": ["SK","Heart","Liver","Kidney"], "title": null},
  "xOffset": {"field": "group", "type": "nominal", "sort": ["Ctrl","TDF"]},
  "y": {"field": "value", "type": "quantitative", "title": "Relative mtDNA copy number", "axis": {"values": [0,0.5,1,1.5,2]}}}},
{"data": {"name": "sDNA"}, "mark": {"type": "line", "color": "#000", "strokeWidth": 1},
 "encoding": {
  "x": {"field": "tissue", "type": "nominal", "sort": ["SK","Heart","Liver","Kidney"], "title": null},
  "xOffset": {"field": "group", "type": "nominal", "sort": ["Ctrl","TDF"]},
  "y": {"field": "value", "type": "quantitative", "title": "Relative mtDNA copy number", "axis": {"values": [0,0.5,1,1.5,2]}},
  "order": {"field": "k"}}},
{"data": {"name": "tDNA"}, "mark": {"type": "text", "fontSize": 11, "dy": 3, "baseline": "alphabetic", "color": "#000"},
 "encoding": {
  "x": {"field": "tissue", "type": "nominal", "sort": ["SK","Heart","Liver","Kidney"], "title": null},
  "y": {"field": "value", "type": "quantitative", "title": "Relative mtDNA copy number", "axis": {"values": [0,0.5,1,1.5,2]}},
  "text": {"field": "label"}}}
]
},
{
"width": 174, "height": 116,
"title": {"text": "D", "dx": -37, "offset": -10},
"resolve": {"axis": {"x": "independent"}},
"layer": [
{"data": {"name": "bRNA"}, "mark": {"type": "bar", "stroke": "#000", "strokeWidth": 1},
 "encoding": {
  "x": {"field": "tissue", "type": "nominal", "sort": ["SK","Heart","Liver","Kidney"], "title": null, "scale": {"paddingInner": 0.37, "paddingOuter": 0.185}},
  "xOffset": {"field": "group", "type": "nominal", "sort": ["Ctrl","TDF"], "scale": {"paddingInner": 0.11, "paddingOuter": 0}},
  "y": {"field": "mean", "type": "quantitative", "title": "Relative mRNA levels", "scale": {"domain": [0, 2], "nice": false}, "axis": {"values": [0,0.5,1,1.5,2]}},
  "color": {"field": "group", "type": "nominal", "scale": {"domain": ["Ctrl","TDF"], "range": ["#1a1ac6","#c90d0d"]}, "legend": {"orient": "none", "legendX": 160, "legendY": -9, "title": null, "symbolType": "M-1,-0.6H1V0.6H-1Z"}}}},
{"data": {"name": "bRNA"}, "mark": {"type": "rule", "color": "#000", "strokeWidth": 1},
 "encoding": {
  "x": {"field": "tissue", "type": "nominal", "sort": ["SK","Heart","Liver","Kidney"], "title": "TFB1M", "axis": {"orient": "top", "labels": false, "ticks": false, "domain": false, "titleFontSize": 9.5, "titlePadding": 9}},
  "xOffset": {"field": "group", "type": "nominal", "sort": ["Ctrl","TDF"]},
  "y": {"field": "mean", "type": "quantitative", "title": "Relative mRNA levels", "axis": {"values": [0,0.5,1,1.5,2]}}, "y2": {"field": "top"}}},
{"data": {"name": "bRNA"}, "mark": {"type": "tick", "color": "#000", "thickness": 1, "size": 7},
 "encoding": {
  "x": {"field": "tissue", "type": "nominal", "sort": ["SK","Heart","Liver","Kidney"], "axis": null},
  "xOffset": {"field": "group", "type": "nominal", "sort": ["Ctrl","TDF"]},
  "y": {"field": "top", "type": "quantitative", "title": "Relative mRNA levels", "axis": {"values": [0,0.5,1,1.5,2]}}}},
{"data": {"name": "pRNA"}, "transform": [{"filter": "datum.group == 'Ctrl'"}], "mark": {"type": "point", "filled": true, "color": "#000", "size": 9, "opacity": 1, "shape": "circle"},
 "encoding": {
  "x": {"field": "tissue", "type": "nominal", "sort": ["SK","Heart","Liver","Kidney"], "axis": null},
  "xOffset": {"field": "group", "type": "nominal", "sort": ["Ctrl","TDF"]},
  "y": {"field": "value", "type": "quantitative", "title": "Relative mRNA levels", "axis": {"values": [0,0.5,1,1.5,2]}}}},
{"data": {"name": "pRNA"}, "transform": [{"filter": "datum.group == 'TDF'"}], "mark": {"type": "point", "filled": true, "color": "#000", "size": 10, "opacity": 1, "shape": "triangle-up"},
 "encoding": {
  "x": {"field": "tissue", "type": "nominal", "sort": ["SK","Heart","Liver","Kidney"], "axis": null},
  "xOffset": {"field": "group", "type": "nominal", "sort": ["Ctrl","TDF"]},
  "y": {"field": "value", "type": "quantitative", "title": "Relative mRNA levels", "axis": {"values": [0,0.5,1,1.5,2]}}}},
{"data": {"name": "sRNA"}, "mark": {"type": "line", "color": "#000", "strokeWidth": 1},
 "encoding": {
  "x": {"field": "tissue", "type": "nominal", "sort": ["SK","Heart","Liver","Kidney"], "axis": null},
  "xOffset": {"field": "group", "type": "nominal", "sort": ["Ctrl","TDF"]},
  "y": {"field": "value", "type": "quantitative", "title": "Relative mRNA levels", "axis": {"values": [0,0.5,1,1.5,2]}},
  "order": {"field": "k"}}},
{"data": {"name": "tRNA"}, "mark": {"type": "text", "fontSize": 11, "dy": 3, "baseline": "alphabetic", "color": "#000"},
 "encoding": {
  "x": {"field": "tissue", "type": "nominal", "sort": ["SK","Heart","Liver","Kidney"], "axis": null},
  "y": {"field": "value", "type": "quantitative", "title": "Relative mRNA levels", "axis": {"values": [0,0.5,1,1.5,2]}},
  "text": {"field": "label"}}}
]
}
],
"spacing": 60, "bounds": "flush",
"resolve": {"scale": {"color": "independent"}, "legend": {"color": "independent"}}
},
{
"hconcat": [
{
"width": 358, "height": 124,
"title": {"text": "E", "dx": 147, "offset": -6},
"layer": [
{"data": {"name": "blotBox"}, "mark": {"type": "rect", "stroke": "#555", "strokeWidth": 1},
 "encoding": {
  "x": {"field": "x1", "type": "quantitative", "scale": {"domain": [-4.407, 6.217], "nice": false, "zero": false}, "axis": null},
  "x2": {"field": "x2"},
  "y": {"field": "y1", "type": "quantitative", "scale": {"domain": [0, 124], "nice": false, "reverse": true}, "axis": null},
  "y2": {"field": "y2"},
  "color": {"field": "protein", "type": "nominal", "scale": {"domain": ["TFB1M","Tubulin"], "range": ["#7f868c","#c7c8ca"]}, "legend": null}}},
{"data": {"name": "blotBand"}, "transform": [{"filter": "datum.protein == 'TFB1M' && datum.intensity > 0.9"}],
 "mark": {"type": "point", "filled": true, "color": "#1c2024", "opacity": 0.6, "size": 3000, "shape": "M-1,0A1,0.5,0,1,0,1,0A1,0.5,0,1,0,-1,0Z"},
 "encoding": {"x": {"field": "lane", "type": "quantitative", "axis": null}, "y": {"field": "y", "type": "quantitative", "axis": null}}},
{"data": {"name": "blotBand"}, "transform": [{"filter": "datum.protein == 'TFB1M' && datum.intensity > 0.9"}],
 "mark": {"type": "point", "filled": true, "color": "#101316", "opacity": 0.95, "size": 1900, "shape": "M-1,0A1,0.6,0,1,0,1,0A1,0.6,0,1,0,-1,0Z"},
 "encoding": {"x": {"field": "lane", "type": "quantitative", "axis": null}, "y": {"field": "y", "type": "quantitative", "axis": null}}},
{"data": {"name": "blotBand"}, "transform": [{"filter": "datum.protein == 'TFB1M' && datum.intensity <= 0.9"}],
 "mark": {"type": "point", "filled": true, "color": "#22272b", "opacity": 0.45, "size": 1500, "shape": "M-1,0A1,0.45,0,1,0,1,0A1,0.45,0,1,0,-1,0Z"},
 "encoding": {"x": {"field": "lane", "type": "quantitative", "axis": null}, "y": {"field": "y", "type": "quantitative", "axis": null}}},
{"data": {"name": "blotBand"}, "transform": [{"filter": "datum.protein == 'TFB1M' && datum.intensity <= 0.9"}],
 "mark": {"type": "point", "filled": true, "color": "#15181b", "opacity": 0.9, "size": 900, "shape": "M-1,0A1,0.4,0,1,0,1,0A1,0.4,0,1,0,-1,0Z"},
 "encoding": {"x": {"field": "lane", "type": "quantitative", "axis": null}, "y": {"field": "y", "type": "quantitative", "axis": null}}},
{"data": {"name": "blotBand"}, "transform": [{"filter": "datum.protein == 'Tubulin'"}],
 "mark": {"type": "point", "filled": true, "color": "#333", "opacity": 0.45, "size": 1300, "shape": "M-1,0A1,0.5,0,1,0,1,0A1,0.5,0,1,0,-1,0Z"},
 "encoding": {"x": {"field": "lane", "type": "quantitative", "axis": null}, "y": {"field": "y", "type": "quantitative", "axis": null}}},
{"data": {"name": "blotBand"}, "transform": [{"filter": "datum.protein == 'Tubulin'"}],
 "mark": {"type": "point", "filled": true, "color": "#0e0e0e", "opacity": 0.95, "size": 850, "shape": "M-1,0A1,0.45,0,1,0,1,0A1,0.45,0,1,0,-1,0Z"},
 "encoding": {"x": {"field": "lane", "type": "quantitative", "axis": null}, "y": {"field": "y", "type": "quantitative", "axis": null}}},
{"data": {"name": "blotLine"}, "mark": {"type": "rule", "color": "#6a6a6a", "strokeWidth": 1.5},
 "encoding": {"x": {"field": "x1", "type": "quantitative", "axis": null}, "x2": {"field": "x2"}, "y": {"field": "y", "type": "quantitative", "axis": null}}},
{"data": {"name": "blotText"}, "mark": {"type": "text", "fontSize": 10.5, "align": "center", "baseline": "middle", "color": "#000"},
 "encoding": {"x": {"field": "x", "type": "quantitative", "axis": null}, "y": {"field": "y", "type": "quantitative", "axis": null}, "text": {"field": "label"}}},
{"data": {"name": "blotLabel"}, "mark": {"type": "text", "fontSize": 10.5, "align": "left", "baseline": "middle", "color": "#000"},
 "encoding": {"x": {"field": "x", "type": "quantitative", "axis": null}, "y": {"field": "y", "type": "quantitative", "axis": null}, "text": {"field": "label"}}}
]
},
{
"width": 107, "height": 116,
"layer": [
{"data": {"name": "bE"}, "mark": {"type": "bar", "stroke": "#000", "strokeWidth": 1},
 "encoding": {
  "x": {"field": "group", "type": "nominal", "sort": ["Ctrl","TDF"], "title": null, "scale": {"paddingInner": 0.505, "paddingOuter": 0.51}},
  "y": {"field": "mean", "type": "quantitative", "title": "Relative protein levels", "scale": {"domain": [0, 1.5], "nice": false}, "axis": {"values": [0,0.5,1,1.5]}},
  "color": {"field": "group", "type": "nominal", "scale": {"domain": ["Ctrl","TDF"], "range": ["#1a1ac6","#c90d0d"]}, "legend": null}}},
{"data": {"name": "bE"}, "mark": {"type": "rule", "color": "#000", "strokeWidth": 1},
 "encoding": {
  "x": {"field": "group", "type": "nominal", "sort": ["Ctrl","TDF"], "title": null},
  "y": {"field": "mean", "type": "quantitative", "title": "Relative protein levels", "axis": {"values": [0,0.5,1,1.5]}}, "y2": {"field": "top"}}},
{"data": {"name": "bE"}, "mark": {"type": "tick", "color": "#000", "thickness": 1, "size": 10},
 "encoding": {
  "x": {"field": "group", "type": "nominal", "sort": ["Ctrl","TDF"], "title": null},
  "y": {"field": "top", "type": "quantitative", "title": "Relative protein levels", "axis": {"values": [0,0.5,1,1.5]}}}},
{"data": {"name": "pE"}, "transform": [{"filter": "datum.group == 'Ctrl'"}], "mark": {"type": "point", "filled": true, "color": "#000", "size": 10, "opacity": 1, "shape": "circle"},
 "encoding": {
  "x": {"field": "group", "type": "nominal", "sort": ["Ctrl","TDF"], "title": null},
  "y": {"field": "value", "type": "quantitative", "title": "Relative protein levels", "axis": {"values": [0,0.5,1,1.5]}}}},
{"data": {"name": "pE"}, "transform": [{"filter": "datum.group == 'TDF'"}], "mark": {"type": "point", "filled": true, "color": "#000", "size": 11, "opacity": 1, "shape": "triangle-up"},
 "encoding": {
  "x": {"field": "group", "type": "nominal", "sort": ["Ctrl","TDF"], "title": null},
  "y": {"field": "value", "type": "quantitative", "title": "Relative protein levels", "axis": {"values": [0,0.5,1,1.5]}}}},
{"data": {"name": "sE"}, "mark": {"type": "line", "color": "#000", "strokeWidth": 1},
 "encoding": {
  "x": {"field": "group", "type": "nominal", "sort": ["Ctrl","TDF"], "title": null},
  "y": {"field": "value", "type": "quantitative", "title": "Relative protein levels", "axis": {"values": [0,0.5,1,1.5]}},
  "order": {"field": "k"}}},
{"data": {"name": "tE"}, "mark": {"type": "text", "fontSize": 11, "dy": 3, "baseline": "alphabetic", "color": "#000"},
 "encoding": {
  "y": {"field": "value", "type": "quantitative", "title": "Relative protein levels", "axis": {"values": [0,0.5,1,1.5]}},
  "text": {"field": "label"}}}
]
}
],
"spacing": 40, "bounds": "flush",
"resolve": {"scale": {"color": "independent"}, "legend": {"color": "independent"}}
}
],
"config": {
 "font": "Liberation Sans",
 "view": {"stroke": null},
 "axis": {"grid": false, "domainColor": "#000", "domainWidth": 1, "tickColor": "#000", "tickSize": 3, "tickWidth": 1, "labelColor": "#000", "titleColor": "#000", "labelFont": "Liberation Sans", "titleFont": "Liberation Sans", "titleFontWeight": "normal", "labelPadding": 2},
 "axisX": {"labelAngle": 0, "labelFontSize": 10},
 "axisY": {"labelFontSize": 8, "titleFontSize": 9.75, "titlePadding": 4, "format": ".1f", "labelOverlap": false},
 "legend": {"labelFontSize": 8.5, "labelFont": "Liberation Sans", "labelColor": "#000", "symbolType": "M-1,-0.6H1V0.6H-1Z", "symbolSize": 81, "symbolStrokeColor": "#000", "symbolStrokeWidth": 1, "rowPadding": 1, "padding": 0, "labelOffset": 3},
 "title": {"fontSize": 14, "font": "Liberation Sans", "fontWeight": "normal", "anchor": "start", "frame": "group", "color": "#000"}
}
}
